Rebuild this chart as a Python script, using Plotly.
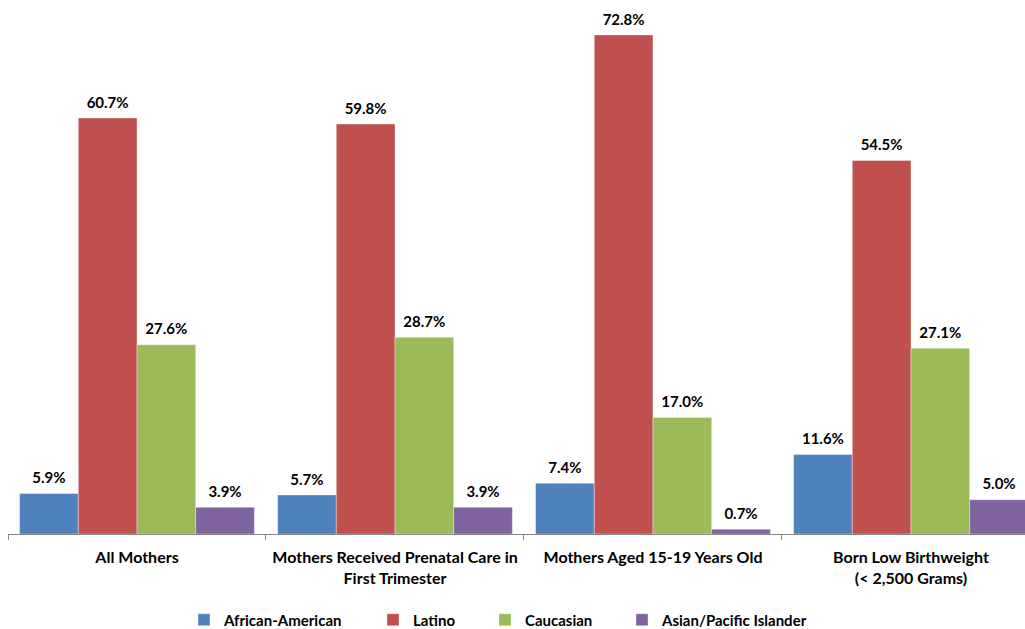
import plotly.graph_objects as go

categories = [
    "All Mothers",
    "Mothers Received Prenatal Care in<br>First Trimester",
    "Mothers Aged 15-19 Years Old",
    "Born Low Birthweight<br>(< 2,500 Grams)",
]
series_names = ["African-American", "Latino", "Caucasian", "Asian/Pacific Islander"]
african_american = [5.9, 5.7, 7.4, 11.6]
latino = [60.7, 59.8, 72.8, 54.5]
caucasian = [27.6, 28.7, 17.0, 27.1]
asian_pacific = [3.9, 3.9, 0.7, 5.0]

colors = ["#4F81BD", "#C0504D", "#9BBB59", "#8064A2"]
values = [african_american, latino, caucasian, asian_pacific]

# one legend box per series so spacing can match the original
legend_ids = ["legend", "legend2", "legend3", "legend4"]
legend_px = [184, 373, 485, 622]

fig = go.Figure()
for i, (name, vals, col) in enumerate(zip(series_names, values, colors)):
    fig.add_trace(go.Bar(
        x=categories,
        y=vals,
        name=f"<b>{name}</b>",
        offsetgroup=str(i),
        legend=legend_ids[i],
        marker=dict(color=col, line=dict(color="rgba(255,255,255,0.6)", width=0.6)),
    ))
    # value labels, aligned with the bars via the same offsetgroup
    fig.add_trace(go.Scatter(
        x=categories,
        y=vals,
        mode="markers+text",
        offsetgroup=str(i),
        text=[f"<b>{v:.1f}%</b>" for v in vals],
        textposition="top center",
        textfont=dict(size=15, color="#000000"),
        marker=dict(size=9, opacity=0),
        showlegend=False,
        hoverinfo="skip",
        cliponaxis=False,
    ))

layout_legends = {}
for lid, px in zip(legend_ids, legend_px):
    layout_legends[lid] = dict(
        orientation="h",
        x=(px - 8) / 1017, xanchor="left",
        y=-0.161, yanchor="middle",
        font=dict(size=15, color="#000000"),
        itemwidth=30,
        bgcolor="rgba(0,0,0,0)",
    )

fig.update_layout(
    width=1025,
    height=629,
    barmode="group",
    scattermode="group",
    bargap=0.09,
    bargroupgap=0,
    plot_bgcolor="white",
    paper_bgcolor="white",
    font=dict(family="Lato, Calibri, sans-serif", size=15, color="#000000"),
    margin=dict(l=8, r=0, t=0, b=95, autoexpand=False),
    showlegend=True,
    xaxis=dict(
        range=[-0.5, 3.442],
        automargin=False,
        showline=True,
        linecolor="#868686",
        linewidth=1,
        ticks="outside",
        tickson="boundaries",
        ticklen=5,
        tickcolor="#868686",
        tickfont=dict(size=16),
        ticklabelstandoff=9,
        tickprefix="<b>",
        ticksuffix="</b>",
    ),
    yaxis=dict(
        range=[0, 77.9],
        visible=False,
        showgrid=False,
        automargin=False,
    ),
    **layout_legends,
)

fig.write_html(
    "out.html",
    config={"displayModeBar": False},
    post_script="document.body.style.margin='0';document.body.style.padding='0';",
)
